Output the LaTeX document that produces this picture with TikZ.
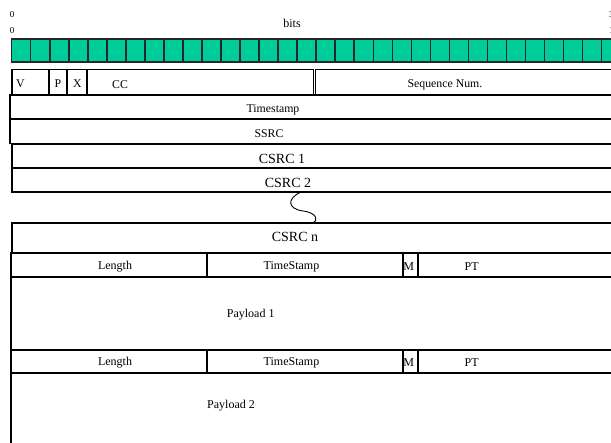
\documentclass[tikz,border=0pt]{standalone}
\usepackage{fontspec}
\setmainfont{Liberation Serif}
\definecolor{bitgreen}{RGB}{0,204,153}
\begin{document}
\begin{tikzpicture}[
    x=1pt, y=-1pt,
    field/.style={draw=black, line width=1.2pt},
    bitcell/.style={draw=black!85, line width=1.5pt, fill=bitgreen},
    tiny/.style={inner sep=0pt, font=\fontsize{9}{10}\selectfont},
    lbl/.style={inner sep=0pt, font=\fontsize{11.8}{13}\selectfont},
    mid/.style={inner sep=0pt, font=\fontsize{12}{14}\selectfont},
    big/.style={inner sep=0pt, font=\fontsize{14}{16}\selectfont}
]
\useasboundingbox (0,0) rectangle (611,443);
\clip (0,0) rectangle (611,443);

% Bit numbers
\node[tiny] (b0a) at (12,15) {0};
\node[tiny] (b0b) at (12,31) {0};
\node[tiny, anchor=west] (b31a) at (609,15) {3};
\node[tiny, anchor=west] (b31b) at (609,31) {1};
\node[mid] (bits) at (292,23) {bits};

% Bit cells
\foreach \i in {0,...,31}
    \draw[bitcell] ({11.7+19.03*\i},39) rectangle ({11.7+19.03*(\i+1)},62);

% RTP header, first word
\draw[field] (12,69.5) rectangle (49,95);
\draw[field] (49,69.5) rectangle (67,95);
\draw[field] (67,69.5) rectangle (87,95);
\draw[field] (87,69.5) rectangle (313.5,95);
\draw[field] (315.5,69.5) rectangle (625,95);
\node[lbl] (v) at (20.5,84) {V};
\node[lbl] (p) at (58,84) {P};
\node[lbl] (x) at (77.5,84) {X};
\node[lbl] (cc) at (120,85) {CC};
\node[lbl] (seq) at (445,85) {Sequence Num.};

% Timestamp and sources
\draw[field] (10,95) rectangle (625,119);
\draw[field] (10,119) rectangle (625,143.5);
\draw[field] (12,144) rectangle (625,168);
\draw[field] (12,168) rectangle (625,192);
\node[lbl] (ts) at (273,110) {Timestamp};
\node[lbl] (ssrc) at (269,134) {SSRC};
\node[big] (csrc1) at (282,158.5) {CSRC 1};
\node[big] (csrc2) at (288,182.5) {CSRC 2};

% Gap mark
\coordinate (gaptop) at (301,192);
\coordinate (gapbot) at (313,223);
\draw[line width=0.9pt] (gaptop) .. controls (286,199) and (288,209) .. (303,211)
    .. controls (318,213) and (318,221) .. (gapbot);

\draw[field] (12,223) rectangle (625,253);
\node[big] (csrcn) at (295,237) {CSRC n};

% First payload
\draw[field] (11,253) rectangle (207,277);
\draw[field] (207,253) rectangle (403,277);
\draw[field] (403,253) rectangle (418,277);
\draw[field] (418,253) rectangle (625,277);
\node[mid] (len1) at (115,266.5) {Length};
\node[mid] (tstamp1) at (291.5,266.5) {TimeStamp};
\node[mid] (m1) at (408.7,266.5) {M};
\node[mid] (pt1) at (471.7,266.5) {PT};
\draw[field] (11,277) rectangle (625,350);
\node[mid] (pay1) at (250.7,315) {Payload 1};

% Second payload
\draw[field] (11,350) rectangle (207,373);
\draw[field] (207,350) rectangle (403,373);
\draw[field] (403,350) rectangle (418,373);
\draw[field] (418,350) rectangle (625,373);
\node[mid] (len2) at (115,363) {Length};
\node[mid] (tstamp2) at (291.5,363) {TimeStamp};
\node[mid] (m2) at (408.7,363) {M};
\node[mid] (pt2) at (471.7,363) {PT};
\draw[field] (11,373) rectangle (625,450);
\node[mid] (pay2) at (231,406) {Payload 2};

\end{tikzpicture}
\end{document}
